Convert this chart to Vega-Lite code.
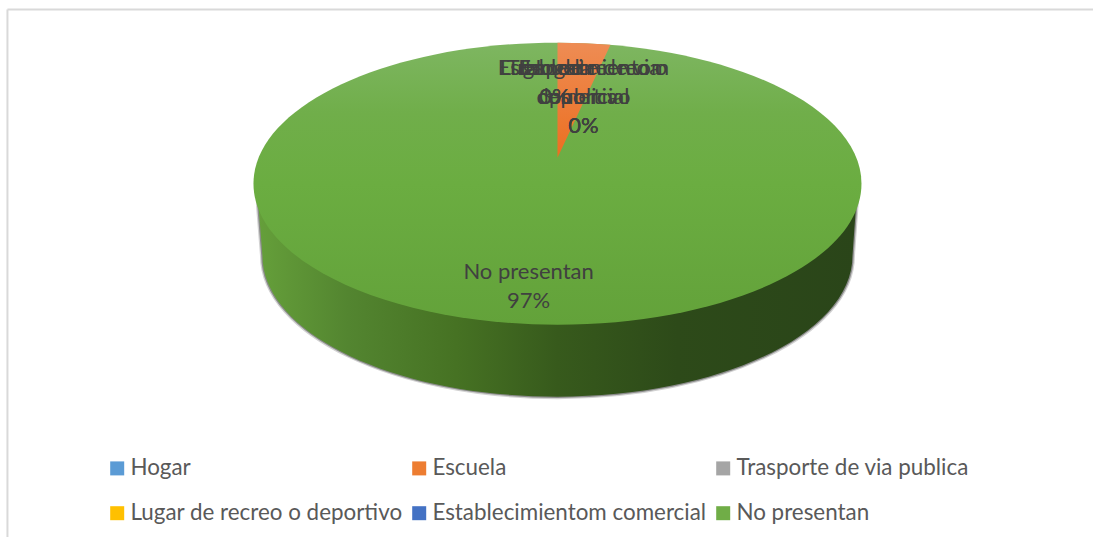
{"$schema":"https://vega.github.io/schema/vega-lite/v6.json","width":1094,"height":538,"autosize":{"type":"fit","contains":"padding"},"padding":0,"background":"white","config":{"view":{"stroke":null},"font":"Lato"},
"data":{"values":[
{"categoria":"Hogar","porcentaje":0,"etiqueta":"Hogar\n0%","grupo":"corta"},
{"categoria":"Escuela","porcentaje":3,"etiqueta":"Escuela\n3%","grupo":"corta"},
{"categoria":"Trasporte de via publica","porcentaje":0,"etiqueta":"Trasporte de via\npublica\n0%","grupo":"larga"},
{"categoria":"Lugar de recreo o deportivo","porcentaje":0,"etiqueta":"Lugar de recreo o\ndeportivo\n0%","grupo":"larga"},
{"categoria":"Establecimientom comercial","porcentaje":0,"etiqueta":"Establecimientom\ncomercial\n0%","grupo":"larga"},
{"categoria":"No presentan","porcentaje":97,"etiqueta":"No presentan\n97%","grupo":"mayor"}]},
"encoding":{"x":{"datum":0,"type":"quantitative","axis":null,"scale":{"domain":[-1.8355,1.7632],"nice":false,"zero":false}},"y":{"datum":0,"type":"quantitative","axis":null,"scale":{"domain":[-1.1645,0.6053],"nice":false,"zero":false}}},
"layer":[
{"mark":{"type":"rule","color":"#d9d9d9","strokeWidth":2},"transform":[{"filter":"datum.categoria==='Hogar'"}],"encoding":{"x":{"datum":-1.811},"x2":{"datum":1.7632},"y":{"datum":0.574}}},
{"mark":{"type":"rule","color":"#d9d9d9","strokeWidth":2},"transform":[{"filter":"datum.categoria==='Hogar'"}],"encoding":{"x":{"datum":-1.811},"y":{"datum":0.574},"y2":{"datum":-1.1645}}},
{"mark":{"type":"point","filled":false,"size":4,"opacity":1,"stroke":"#202020","strokeOpacity":0.2,"strokeWidth":5,"shape":"M-299 22L-295 72A295 141 0 0 0 295 72L299 16L299 0L-299 0Z"},"transform":[{"filter":"datum.categoria==='No presentan'"}]},
{"mark":{"type":"point","filled":false,"size":4,"opacity":1,"stroke":"#202020","strokeOpacity":0.4,"strokeWidth":2.5,"shape":"M-299 22L-295 72A295 141 0 0 0 295 72L299 16L299 0L-299 0Z"},"transform":[{"filter":"datum.categoria==='No presentan'"}]},
{"mark":{"type":"point","filled":true,"size":4,"opacity":1,"strokeWidth":0,"shape":"M-299 22L-295 72A295 141 0 0 0 295 72L299 16L299 0L-299 0Z","fill":{"gradient":"linear","x1":0,"y1":0,"x2":1,"y2":0,"stops":[{"offset":0,"color":"#659f3a"},{"offset":0.15,"color":"#538530"},{"offset":0.33,"color":"#467223"},{"offset":0.5,"color":"#375a1c"},{"offset":0.7,"color":"#2d4a19"},{"offset":1,"color":"#2a4519"}]}},"transform":[{"filter":"datum.categoria==='No presentan'"}]},
{"mark":{"type":"point","filled":true,"size":0,"opacity":1,"strokeWidth":0,"shape":"square"},"encoding":{"color":{"field":"categoria","type":"nominal","scale":{"domain":["Hogar","Escuela","Trasporte de via publica","Lugar de recreo o deportivo","Establecimientom comercial","No presentan"],"range":["#5b9bd5","#ed7d31","#a5a5a5","#ffc000","#4472c4","#70ad47"]},"legend":{"orient":"none","legendX":106,"legendY":457,"direction":"horizontal","columns":3,"title":null,"symbolType":"square","symbolSize":196,"symbolStrokeWidth":0,"labelFont":"Lato","labelFontSize":22.4,"labelColor":"#595959","labelOffset":2,"columnPadding":5,"rowPadding":22,"padding":0,"labelLimit":400}}}},
{"mark":{"type":"point","filled":true,"size":4,"opacity":1,"strokeWidth":0,"shape":"M-304 0A304 141 0 1 1 304 0A304 141 0 1 1 -304 0Z","fill":{"gradient":"linear","x1":0,"y1":0,"x2":0,"y2":1,"stops":[{"offset":0,"color":"#7eb661"},{"offset":0.25,"color":"#70ae4a"},{"offset":0.5,"color":"#6bad41"},{"offset":1,"color":"#63a23a"}]}},"transform":[{"filter":"datum.categoria==='No presentan'"}]},
{"mark":{"type":"point","filled":true,"size":4,"opacity":1,"strokeWidth":0,"shape":"M0 -26L0 -141A304 141 0 0 1 53 -139Z","fill":{"gradient":"linear","x1":0,"y1":0,"x2":0,"y2":1,"stops":[{"offset":0,"color":"#ee8c54"},{"offset":1,"color":"#ec6f20"}]}},"transform":[{"filter":"datum.categoria==='Escuela'"}]},
{"mark":{"type":"text","lineBreak":"\n","font":"Lato","fontSize":22,"color":"#404040","lineHeight":29,"baseline":"top","align":"center"},"transform":[{"filter":"datum.grupo==='larga'"}],"encoding":{"text":{"field":"etiqueta"},"x":{"datum":0.0855},"y":{"datum":0.414}}},
{"mark":{"type":"text","lineBreak":"\n","font":"Lato","fontSize":22,"color":"#404040","lineHeight":29,"baseline":"top","align":"center"},"transform":[{"filter":"datum.grupo==='corta'"}],"encoding":{"text":{"field":"etiqueta"},"x":{"datum":-0.01},"y":{"datum":0.414}}},
{"mark":{"type":"text","lineBreak":"\n","font":"Lato","fontSize":22,"color":"#404040","lineHeight":29,"baseline":"top","align":"center"},"transform":[{"filter":"datum.grupo==='mayor'"}],"encoding":{"text":{"field":"etiqueta"},"x":{"datum":-0.095},"y":{"datum":-0.257}}}
]}
